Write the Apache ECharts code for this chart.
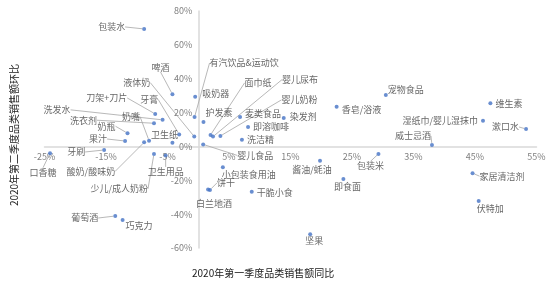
<!DOCTYPE html>
<html>
<head>
<meta charset="utf-8">
<script src="https://cdn.jsdelivr.net/npm/echarts@6/dist/echarts.min.js"></script>
<style>html,body{margin:0;padding:0;background:#fff;}#c{width:550px;height:285px;}</style>
</head>
<body>
<div id="c"></div>
<script>
// ---- data ----
const categories = ['包装水','啤酒','吸奶器','有汽饮品&运动饮','液体奶','牙膏','刀架+刀片','洗发水','洗衣剂','奶瓶',
  '果汁','奶嘴','酸奶/酸味奶','卫生纸','牙刷','口香糖','少儿/成人奶粉','卫生用品','葡萄酒','巧克力',
  '护发素','面巾纸','婴儿尿布','婴儿奶粉','麦类食品','即溶咖啡','洗洁精','染发剂','香皂/浴液','婴儿食品',
  '小包装食用油','饼干','白兰地酒','干脆小食','坚果','酱油/蚝油','即食面','包装米','宠物食品','威士忌酒',
  '湿纸巾/婴儿湿抹巾','维生素','漱口水','家居清洁剂','伏特加'];
const q1YoY = [-8.8,-4.2,-0.5,-0.6,-0.65,-3.1,-7.0,-5.8,-7.2,-11.5,
  -11.9,-8.0,-8.8,-4.2,-15.3,-24.1,-7.2,-5.3,-13.5,-12.3,
  0.85,2.0,2.4,3.6,6.8,8.1,7.1,13.9,22.5,0.8,
  4.0,1.9,1.6,8.7,18.2,19.8,23.6,29.3,30.5,38.0,
  46.3,47.5,53.3,44.6,45.6];
const q2QoQ = [69.4,30.8,29.4,17.4,5.8,7.1,19.2,15.7,13.7,7.8,
  3.2,3.4,2.4,2.1,-2.1,-4.0,-4.4,-5.3,-41.1,-43.4,
  14.5,6.8,5.8,6.2,17.4,11.5,4.0,16.8,23.5,1.2,
  -12.3,-25.7,-25.4,-26.7,-51.9,-8.4,-19.2,-4.4,30.4,0.9,
  15.2,25.5,10.3,-15.8,-32.2];
const xTicks = {min: -25, max: 55, interval: 10};
const yTicks = {min: -60, max: 80, interval: 20};

// ---- label placement (offset from point, align, leader line) ----
const placement = {
  '包装水':[-19,-2,'right',1], '啤酒':[-12,-27,'center',1], '吸奶器':[7,-3,'left',0],
  '有汽饮品&运动饮':[15,-54,'left',1], '液体奶':[-44,-54,'right',1], '牙膏':[-21,-35,'right',1],
  '刀架+刀片':[-28,-16,'right',1], '洗发水':[-92,-10,'right',1], '洗衣剂':[-57,-3,'right',1],
  '奶瓶':[-12,-7,'right',1], '果汁':[-18,-2,'right',1], '奶嘴':[-9,-24,'right',1],
  '酸奶/酸味奶':[-29,29,'right',1], '卫生纸':[-8,-8,'center',0], '牙刷':[-19,2,'right',1],
  '口香糖':[-7,19,'center',1], '少儿/成人奶粉':[-6,35,'right',1], '卫生用品':[0,16,'center',1],
  '葡萄酒':[-17,2,'right',1], '巧克力':[3,6,'left',0], '护发素':[2,-9,'left',0],
  '面巾纸':[34,-52,'left',1], '婴儿尿布':[69,-57,'left',1], '婴儿奶粉':[61,-36,'left',1],
  '麦类食品':[5,-3,'left',0], '即溶咖啡':[5,0,'left',0], '洗洁精':[5,0,'left',0],
  '染发剂':[6,-1,'left',0], '香皂/浴液':[5,3,'left',0], '婴儿食品':[34,11,'left',1],
  '小包装食用油':[-1,7,'left',0], '饼干':[7,-7,'left',1], '白兰地酒':[6,14,'center',0],
  '干脆小食':[5,1,'left',0], '坚果':[4,6,'center',0], '酱油/蚝油':[-8,9,'center',0],
  '即食面':[4,8,'center',0], '包装米':[-8,12,'center',1], '宠物食品':[2,-5,'left',0],
  '威士忌酒':[-19,-9,'center',1], '湿纸巾/婴儿湿抹巾':[-5,0,'right',0], '维生素':[5,0,'left',0],
  '漱口水':[-7,-2,'right',1], '家居清洁剂':[7,3,'left',1], '伏特加':[-2,8,'left',0]
};

const seriesData = categories.map((n, i) => ({
  name: n,
  value: [q1YoY[i], q2QoQ[i]],
  labelLine: {show: !!(placement[n] && placement[n][3])}
}));

const FONT = '"Noto Sans CJK SC", "Noto Sans", sans-serif';
const chart = echarts.init(document.getElementById('c'), null, {renderer: 'canvas'});
const axisCommon = {
  type: 'value',
  axisLine: {onZero: false, lineStyle: {color: '#d9d9d9', width: 1.5}},
  axisTick: {show: false}, splitLine: {show: false},
  axisLabel: {formatter: '{value}%', color: '#7f7f7f', fontSize: 9, fontFamily: FONT, margin: 6}
};
chart.setOption({
  animation: false,
  backgroundColor: '#fff',
  grid: {left: 44.5, right: 13.5, top: 11, bottom: 37},
  xAxis: Object.assign({}, axisCommon, {min: xTicks.min, max: xTicks.max, interval: xTicks.interval}),
  yAxis: Object.assign({}, axisCommon, {min: yTicks.min, max: yTicks.max, interval: yTicks.interval}),
  series: [{
    type: 'scatter',
    symbol: 'circle', symbolSize: 4,
    itemStyle: {color: '#4472C4'},
    data: seriesData,
    label: {show: true, position: 'right', formatter: '{b}', color: '#404040', fontSize: 9, fontFamily: FONT},
    labelLine: {show: false, length2: 0, lineStyle: {color: '#a6a6a6', width: 0.8}},
    labelLayout: function (p) {
      const n = categories[p.dataIndex];
      const pl = placement[n] || [5, 0, 'left', 0];
      const cx = p.rect.x + p.rect.width / 2;
      const cy = p.rect.y + p.rect.height / 2;
      return {x: cx + pl[0], y: cy + pl[1], align: pl[2], verticalAlign: 'middle'};
    }
  }],
  graphic: [
    {type: 'text', left: 192, top: 268, style: {text: '2020年第一季度品类销售额同比', fill: '#1a1a1a', font: '10px ' + FONT}},
    {type: 'text', x: 14, y: 135, rotation: Math.PI / 2,
      style: {text: '2020年第二季度品类销售额环比', fill: '#1a1a1a', font: '10px ' + FONT, align: 'center', verticalAlign: 'middle'}}
  ]
});
// move both axes so they cross at the origin (labels follow the axis lines)
const origin = chart.convertToPixel({gridIndex: 0}, [0, 0]);
const corner = chart.convertToPixel({gridIndex: 0}, [xTicks.min, yTicks.min]);
chart.setOption({
  xAxis: {offset: -(corner[1] - origin[1])},
  yAxis: {offset: -(origin[0] - corner[0])}
});
</script>
</body>
</html>
